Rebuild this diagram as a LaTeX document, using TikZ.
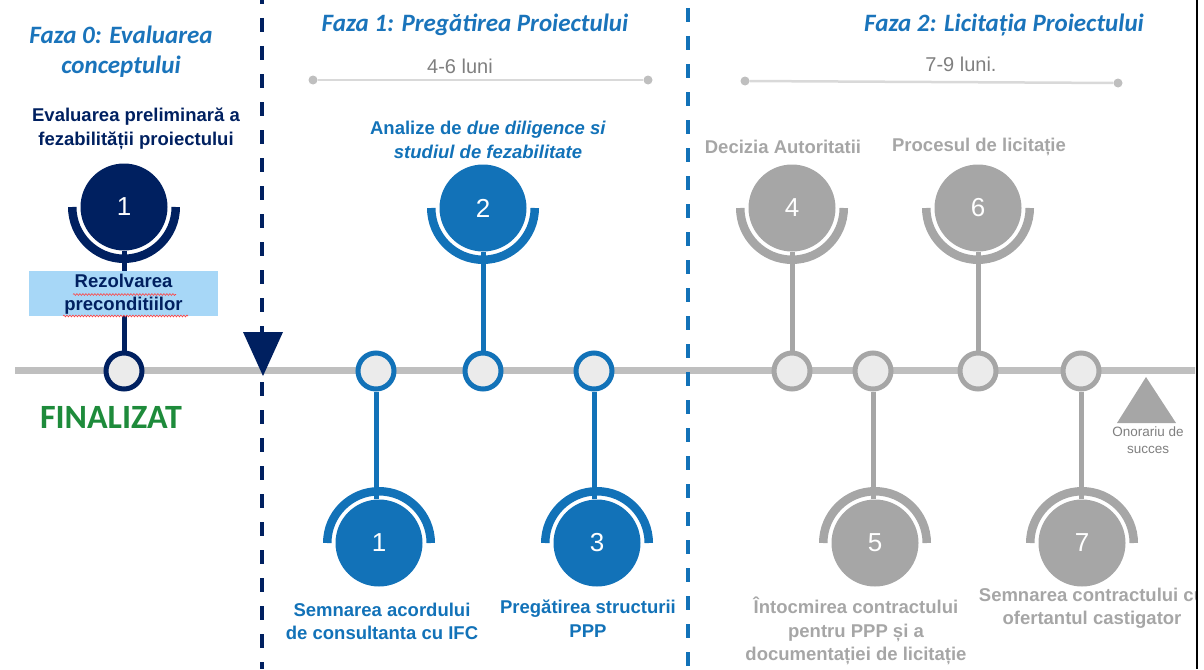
\documentclass[tikz,border=0pt]{standalone}
\usepackage{fontspec}
\setmainfont{Liberation Sans}
\newfontfamily\titlefont{Carlito}
\usetikzlibrary{decorations.pathmorphing}

\definecolor{navy}{HTML}{002060}
\definecolor{ifcblue}{HTML}{1272B8}
\definecolor{titleblue}{HTML}{1A74BB}
\definecolor{stepgray}{HTML}{A6A6A6}
\definecolor{dotfill}{HTML}{EBEBEB}
\definecolor{linegray}{HTML}{BFBFBF}
\definecolor{durgray}{HTML}{D9D9D9}
\definecolor{boxblue}{HTML}{A7D7F7}
\definecolor{donegreen}{HTML}{1E8B3B}
\definecolor{labelgray}{HTML}{7F7F7F}

% half ring drawn around a step circle: below (180..360) or above (0..180)
\newcommand\stepcup[4]{\draw[cup=#2] ([shift={(#3:51.75)}]#1.center) arc (#3:#4:51.75);}

\begin{document}
\begin{tikzpicture}[x=1pt,y=1pt,
  bigstep/.style={circle, fill=#1, minimum size=87pt, inner sep=0pt, text=white,
    font=\fontsize{26}{26}\selectfont},
  milestone/.style={circle, draw=#1, line width=5pt, fill=dotfill, minimum size=36pt, inner sep=0pt},
  stem/.style={draw=#1, line width=5pt},
  cup/.style={draw=#1, line width=8.5pt},
  steplabel/.style={text=#1, font=\bfseries\fontsize{18.5}{23.5}\selectfont, align=center, inner sep=0pt},
  phasetitle/.style={text=titleblue, font=\titlefont\bfseries\itshape\fontsize{25}{30}\selectfont,
    align=center, inner sep=0pt},
  durtext/.style={text=labelgray, font=\fontsize{20}{20}\selectfont, inner sep=0pt},
  durdot/.style={circle, fill=linegray, minimum size=9pt, inner sep=0pt},
  durline/.style={draw=durgray, line width=2.5pt},
  divider/.style={draw=#1, line width=3.5pt, dash pattern=on 14pt off 14pt},
  squiggle/.style={draw=red!75, line width=0.6pt, decorate,
    decoration={snake, amplitude=0.9pt, segment length=3pt}}
]
\useasboundingbox (0,0) rectangle (1204,-669);

\begin{scope}
\clip (0,0) rectangle (1195,-669);

% main time axis
\coordinate (axisL) at (15,-370);
\coordinate (axisR) at (1196,-370);
\draw[linegray, line width=7pt] (axisL) -- (axisR);

% phase dividers
\coordinate (divAtop) at (262,0);
\coordinate (divAbot) at (262,-669);
\coordinate (divBtop) at (688,0);
\coordinate (divBbot) at (688,-669);
\draw[divider=navy, dash phase=10pt] (divAtop) -- (divAbot);
\draw[divider=ifcblue, dash phase=20pt] (divBtop) -- (divBbot);
\fill[navy] (243,-332) -- (283,-332) -- (263,-376) -- cycle;

% phase titles
\node[phasetitle] (ph0) at (121,-52) {Faza 0: Evaluarea\\conceptului};
\node[phasetitle] (ph1) at (475,-25) {Faza 1: Pregătirea Proiectului};
\node[phasetitle] (ph2) at (1004,-25) {Faza 2: Licitația Proiectului};

% durations
\node[durdot] (d1a) at (313,-80) {};
\node[durdot] (d1b) at (648,-80) {};
\draw[durline] (d1a) -- (d1b);
\node[durtext] (d1t) at (460,-66) {4-6 luni};
\node[durdot] (d2a) at (745,-81) {};
\node[durdot] (d2b) at (1118,-83) {};
\draw[durline] (d2a) -- (d2b);
\node[durtext] (d2t) at (961,-64) {7-9 luni.};

% ---- phase 0
\node[milestone=navy] (m0) at (124,-371) {};
\node[bigstep=navy] (s0) at (124,-207) {1};
\stepcup{s0}{navy}{180}{360}
\draw[stem=navy] (s0) -- (m0);
\node[steplabel=navy] (t0) at (136,-129) {Evaluarea preliminară a\\fezabilității proiectului};
\node[fill=boxblue, minimum width=189pt, minimum height=45pt, inner sep=0pt] (box) at (123.5,-293.5) {};
\node[steplabel=navy] (boxt) at (123.5,-294) {Rezolvarea\\preconditiilor};
\draw[squiggle] (73,-294.5) -- (176,-294.5);
\draw[squiggle] (63,-316) -- (188,-316);
\node[text=donegreen, font=\titlefont\bfseries\fontsize{34}{34}\selectfont, inner sep=0pt] (done) at (111,-417) {FINALIZAT};

% ---- phase 1
\node[milestone=ifcblue] (b1) at (376,-371) {};
\node[milestone=ifcblue] (b2) at (483,-371) {};
\node[milestone=ifcblue] (b3) at (594,-371) {};

\node[bigstep=ifcblue] (s2) at (483,-208) {2};
\stepcup{s2}{ifcblue}{180}{360}
\draw[stem=ifcblue] (s2) -- (b2);
\node[steplabel=ifcblue] (t2) at (488,-140) {Analize de \textit{due diligence si}\\\textit{studiul de fezabilitate}};

\node[bigstep=ifcblue] (s1) at (379,-543) {1};
\stepcup{s1}{ifcblue}{0}{180}
\draw[stem=ifcblue] (b1) -- (b1 |- s1.north);
\node[steplabel=ifcblue] (t1) at (382,-621.5) {Semnarea acordului\\de consultanta cu IFC};

\node[bigstep=ifcblue] (s3) at (597,-543) {3};
\stepcup{s3}{ifcblue}{0}{180}
\draw[stem=ifcblue] (b3) -- (b3 |- s3.north);
\node[steplabel=ifcblue] (t3) at (588,-618.5) {Pregătirea structurii\\PPP};

% ---- phase 2
\node[milestone=stepgray] (g4) at (792,-371) {};
\node[milestone=stepgray] (g5) at (873,-371) {};
\node[milestone=stepgray] (g6) at (978,-371) {};
\node[milestone=stepgray] (g7) at (1081,-371) {};

\node[bigstep=stepgray] (s4) at (792,-208) {4};
\stepcup{s4}{stepgray}{180}{360}
\draw[stem=stepgray] (s4) -- (g4);
\node[steplabel=stepgray] (t4) at (783,-147) {Decizia Autoritatii};

\node[bigstep=stepgray] (s6) at (978,-208) {6};
\stepcup{s6}{stepgray}{180}{360}
\draw[stem=stepgray] (s6) -- (g6);
\node[steplabel=stepgray] (t6) at (979,-147) {Procesul de licitație};

\node[bigstep=stepgray] (s5) at (875,-543) {5};
\stepcup{s5}{stepgray}{0}{180}
\draw[stem=stepgray] (g5) -- (g5 |- s5.north);
\node[steplabel=stepgray] (t5) at (856,-631) {Întocmirea contractului\\pentru PPP și a\\documentației de licitație};

\node[bigstep=stepgray] (s7) at (1082,-543) {7};
\stepcup{s7}{stepgray}{0}{180}
\draw[stem=stepgray] (g7) -- (g7 |- s7.north);
\node[steplabel=stepgray] (t7) at (1092,-608) {Semnarea contractului cu\\ofertantul castigator};

% success fee marker
\fill[stepgray] (1117,-423) -- (1176,-423) -- (1146,-377) -- cycle;
\node[text=labelgray, font=\fontsize{13.5}{17}\selectfont, align=center, inner sep=0pt] (fee) at (1148,-440.5) {Onorariu de\\succes};
\end{scope}

% right frame edge
\coordinate (edgeTop) at (1197,0);
\coordinate (edgeBot) at (1197,-669);
\draw[black, line width=2.5pt] (edgeTop) -- (edgeBot);
\end{tikzpicture}
\end{document}
